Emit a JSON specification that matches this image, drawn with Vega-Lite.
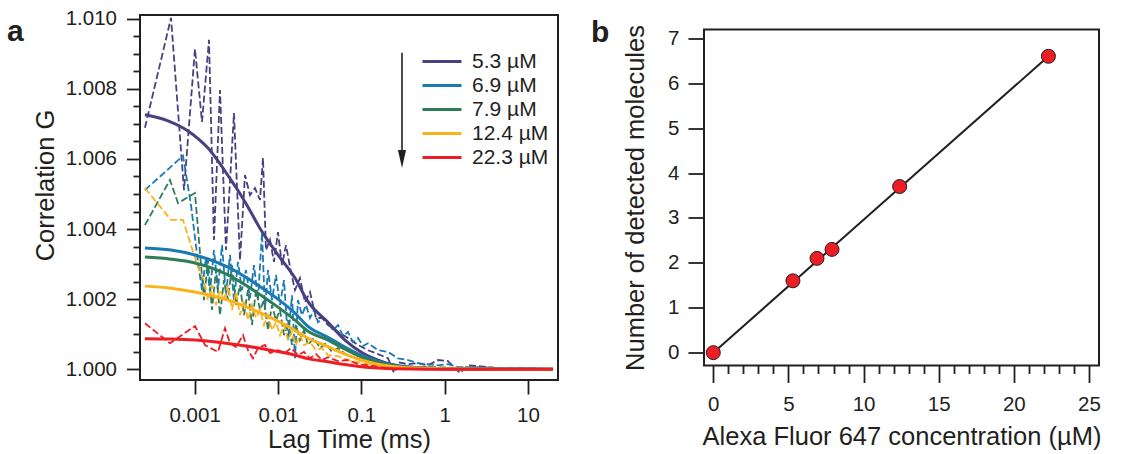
{
  "$schema": "https://vega.github.io/schema/vega-lite/v6.json",
  "background": "white",
  "padding": {"left": 6, "top": 7, "right": 5, "bottom": 2},
  "bounds": "flush",
  "center": true,
  "spacing": 146,
  "config": {
    "font": "Liberation Sans",
    "view": {"stroke": "#231f20", "strokeWidth": 2},
    "axis": {"domain": false, "grid": false, "tickColor": "#231f20", "tickWidth": 1.8, "labelColor": "#231f20", "labelFontSize": 20.5, "titleColor": "#231f20", "titleFontSize": 25.5, "titleFontWeight": "normal", "labelFlush": false, "labelOverlap": false},
    "legend": {"orient": "none", "legendX": 288, "legendY": 32.5, "title": null, "symbolType": "M-1.56,0L1.56,0", "symbolSize": 625, "symbolStrokeWidth": 3, "labelFontSize": 21, "labelColor": "#231f20", "labelOffset": 16, "rowPadding": 0, "padding": 0},
    "title": {"fontSize": 30, "fontWeight": "bold", "color": "#231f20", "anchor": "start", "frame": "group", "offset": 0, "baseline": "alphabetic"}
  },
  "datasets": {
    "raw": [
      {"conc":"5.3 µM","lag":0.000253,"G":1.00689},{"conc":"5.3 µM","lag":0.000520,"G":1.01003},{"conc":"5.3 µM","lag":0.000744,"G":1.00511},{"conc":"5.3 µM","lag":0.001008,"G":1.00914},{"conc":"5.3 µM","lag":0.001224,"G":1.00706},{"conc":"5.3 µM","lag":0.001485,"G":1.00940},{"conc":"5.3 µM","lag":0.001704,"G":1.00369},{"conc":"5.3 µM","lag":0.002012,"G":1.00797},{"conc":"5.3 µM","lag":0.002375,"G":1.00340},{"conc":"5.3 µM","lag":0.002962,"G":1.00731},{"conc":"5.3 µM","lag":0.003496,"G":1.00311},{"conc":"5.3 µM","lag":0.004014,"G":1.00554},{"conc":"5.3 µM","lag":0.004609,"G":1.00497},{"conc":"5.3 µM","lag":0.005292,"G":1.00517},{"conc":"5.3 µM","lag":0.006076,"G":1.00483},{"conc":"5.3 µM","lag":0.006601,"G":1.00603},{"conc":"5.3 µM","lag":0.007172,"G":1.00340},{"conc":"5.3 µM","lag":0.008010,"G":1.00369},{"conc":"5.3 µM","lag":0.008947,"G":1.00306},{"conc":"5.3 µM","lag":0.00999,"G":1.00391},{"conc":"5.3 µM","lag":0.01116,"G":1.00297},{"conc":"5.3 µM","lag":0.01246,"G":1.00354},{"conc":"5.3 µM","lag":0.01431,"G":1.00277},{"conc":"5.3 µM","lag":0.01598,"G":1.00226},{"conc":"5.3 µM","lag":0.01835,"G":1.00260},{"conc":"5.3 µM","lag":0.02107,"G":1.00191},{"conc":"5.3 µM","lag":0.02420,"G":1.00220},{"conc":"5.3 µM","lag":0.02856,"G":1.00146},{"conc":"5.3 µM","lag":0.03371,"G":1.00146},{"conc":"5.3 µM","lag":0.03977,"G":1.00126},{"conc":"5.3 µM","lag":0.05243,"G":1.00106},{"conc":"5.3 µM","lag":0.06912,"G":1.00089},{"conc":"5.3 µM","lag":0.09112,"G":1.00069},{"conc":"5.3 µM","lag":0.1201,"G":1.00054},{"conc":"5.3 µM","lag":0.1583,"G":1.00043},{"conc":"5.3 µM","lag":0.2087,"G":1.00031},{"conc":"5.3 µM","lag":0.2464,"G":0.99989},{"conc":"5.3 µM","lag":0.2752,"G":1.00020},{"conc":"5.3 µM","lag":0.3627,"G":1.00014},{"conc":"5.3 µM","lag":0.4781,"G":1.00017},{"conc":"5.3 µM","lag":0.6304,"G":1.00011},{"conc":"5.3 µM","lag":0.8310,"G":1.00026},{"conc":"5.3 µM","lag":1.0954,"G":1.00023},{"conc":"5.3 µM","lag":1.5262,"G":0.99989},{"conc":"5.3 µM","lag":1.9037,"G":1.00011},{"conc":"5.3 µM","lag":3.3082,"G":1.00006},{"conc":"5.3 µM","lag":5.7489,"G":1.00000},{"conc":"5.3 µM","lag":9.99,"G":1.00003},{"conc":"5.3 µM","lag":19.93,"G":1.00000},
      {"conc":"6.9 µM","lag":0.000253,"G":1.00511},{"conc":"6.9 µM","lag":0.000724,"G":1.00609},{"conc":"6.9 µM","lag":0.000903,"G":1.00469},{"conc":"6.9 µM","lag":0.001095,"G":1.00306},{"conc":"6.9 µM","lag":0.001224,"G":1.00226},{"conc":"6.9 µM","lag":0.001367,"G":1.00317},{"conc":"6.9 µM","lag":0.001526,"G":1.00220},{"conc":"6.9 µM","lag":0.001704,"G":1.00340},{"conc":"6.9 µM","lag":0.001904,"G":1.00226},{"conc":"6.9 µM","lag":0.002126,"G":1.00354},{"conc":"6.9 µM","lag":0.002375,"G":1.00211},{"conc":"6.9 µM","lag":0.002652,"G":1.00326},{"conc":"6.9 µM","lag":0.002962,"G":1.00197},{"conc":"6.9 µM","lag":0.003308,"G":1.00306},{"conc":"6.9 µM","lag":0.003695,"G":1.00226},{"conc":"6.9 µM","lag":0.004126,"G":1.00283},{"conc":"6.9 µM","lag":0.004609,"G":1.00203},{"conc":"6.9 µM","lag":0.005147,"G":1.00297},{"conc":"6.9 µM","lag":0.005749,"G":1.00197},{"conc":"6.9 µM","lag":0.006421,"G":1.00389},{"conc":"6.9 µM","lag":0.006976,"G":1.00169},{"conc":"6.9 µM","lag":0.007580,"G":1.00283},{"conc":"6.9 µM","lag":0.008466,"G":1.00197},{"conc":"6.9 µM","lag":0.009454,"G":1.00269},{"conc":"6.9 µM","lag":0.01056,"G":1.00183},{"conc":"6.9 µM","lag":0.01179,"G":1.00254},{"conc":"6.9 µM","lag":0.01317,"G":1.00083},{"conc":"6.9 µM","lag":0.01471,"G":1.00211},{"conc":"6.9 µM","lag":0.01598,"G":1.00031},{"conc":"6.9 µM","lag":0.01736,"G":1.00197},{"conc":"6.9 µM","lag":0.01939,"G":1.00154},{"conc":"6.9 µM","lag":0.02166,"G":1.00183},{"conc":"6.9 µM","lag":0.02420,"G":1.00146},{"conc":"6.9 µM","lag":0.02702,"G":1.00169},{"conc":"6.9 µM","lag":0.03018,"G":1.00134},{"conc":"6.9 µM","lag":0.03466,"G":1.00146},{"conc":"6.9 µM","lag":0.03977,"G":1.00134},{"conc":"6.9 µM","lag":0.04566,"G":1.00111},{"conc":"6.9 µM","lag":0.05243,"G":1.00126},{"conc":"6.9 µM","lag":0.06020,"G":1.00094},{"conc":"6.9 µM","lag":0.06912,"G":1.00106},{"conc":"6.9 µM","lag":0.07936,"G":1.00077},{"conc":"6.9 µM","lag":0.09112,"G":1.00089},{"conc":"6.9 µM","lag":0.1046,"G":1.00066},{"conc":"6.9 µM","lag":0.1201,"G":1.00074},{"conc":"6.9 µM","lag":0.1583,"G":1.00054},{"conc":"6.9 µM","lag":0.2087,"G":1.00049},{"conc":"6.9 µM","lag":0.2752,"G":1.00031},{"conc":"6.9 µM","lag":0.3627,"G":1.00026},{"conc":"6.9 µM","lag":0.4781,"G":1.00017},{"conc":"6.9 µM","lag":0.6304,"G":1.00014},{"conc":"6.9 µM","lag":0.8310,"G":1.00011},{"conc":"6.9 µM","lag":1.0954,"G":1.00014},{"conc":"6.9 µM","lag":1.4444,"G":1.00006},{"conc":"6.9 µM","lag":2.5098,"G":1.00006},{"conc":"6.9 µM","lag":4.3609,"G":1.00003},{"conc":"6.9 µM","lag":7.580,"G":1.00003},{"conc":"6.9 µM","lag":19.93,"G":1.00000},
      {"conc":"7.9 µM","lag":0.000253,"G":1.00411},{"conc":"7.9 µM","lag":0.000505,"G":1.00540},{"conc":"7.9 µM","lag":0.000631,"G":1.00474},{"conc":"7.9 µM","lag":0.001008,"G":1.00503},{"conc":"7.9 µM","lag":0.001293,"G":1.00197},{"conc":"7.9 µM","lag":0.001444,"G":1.00311},{"conc":"7.9 µM","lag":0.001613,"G":1.00169},{"conc":"7.9 µM","lag":0.001801,"G":1.00283},{"conc":"7.9 µM","lag":0.002012,"G":1.00154},{"conc":"7.9 µM","lag":0.002247,"G":1.00254},{"conc":"7.9 µM","lag":0.002510,"G":1.00197},{"conc":"7.9 µM","lag":0.002803,"G":1.00297},{"conc":"7.9 µM","lag":0.003130,"G":1.00183},{"conc":"7.9 µM","lag":0.003496,"G":1.00240},{"conc":"7.9 µM","lag":0.003905,"G":1.00154},{"conc":"7.9 µM","lag":0.004361,"G":1.00226},{"conc":"7.9 µM","lag":0.004871,"G":1.00126},{"conc":"7.9 µM","lag":0.005440,"G":1.00226},{"conc":"7.9 µM","lag":0.006076,"G":1.00169},{"conc":"7.9 µM","lag":0.006786,"G":1.00197},{"conc":"7.9 µM","lag":0.007580,"G":1.00111},{"conc":"7.9 µM","lag":0.008466,"G":1.00183},{"conc":"7.9 µM","lag":0.009454,"G":1.00140},{"conc":"7.9 µM","lag":0.01056,"G":1.00169},{"conc":"7.9 µM","lag":0.01179,"G":1.00097},{"conc":"7.9 µM","lag":0.01317,"G":1.00140},{"conc":"7.9 µM","lag":0.01471,"G":1.00069},{"conc":"7.9 µM","lag":0.01643,"G":1.00126},{"conc":"7.9 µM","lag":0.01835,"G":1.00083},{"conc":"7.9 µM","lag":0.02050,"G":1.00111},{"conc":"7.9 µM","lag":0.02289,"G":1.00069},{"conc":"7.9 µM","lag":0.02702,"G":1.00089},{"conc":"7.9 µM","lag":0.03190,"G":1.00060},{"conc":"7.9 µM","lag":0.03763,"G":1.00074},{"conc":"7.9 µM","lag":0.04441,"G":1.00049},{"conc":"7.9 µM","lag":0.05243,"G":1.00060},{"conc":"7.9 µM","lag":0.06912,"G":1.00037},{"conc":"7.9 µM","lag":0.09112,"G":1.00031},{"conc":"7.9 µM","lag":0.1201,"G":1.00020},{"conc":"7.9 µM","lag":0.1583,"G":1.00017},{"conc":"7.9 µM","lag":0.2397,"G":1.00009},{"conc":"7.9 µM","lag":0.3627,"G":1.00006},{"conc":"7.9 µM","lag":0.6304,"G":1.00006},{"conc":"7.9 µM","lag":1.9037,"G":1.00003},{"conc":"7.9 µM","lag":19.93,"G":1.00000},
      {"conc":"12.4 µM","lag":0.000253,"G":1.00517},{"conc":"12.4 µM","lag":0.000520,"G":1.00426},{"conc":"12.4 µM","lag":0.000724,"G":1.00426},{"conc":"12.4 µM","lag":0.001095,"G":1.00291},{"conc":"12.4 µM","lag":0.001293,"G":1.00254},{"conc":"12.4 µM","lag":0.001444,"G":1.00197},{"conc":"12.4 µM","lag":0.001613,"G":1.00240},{"conc":"12.4 µM","lag":0.001801,"G":1.00183},{"conc":"12.4 µM","lag":0.002012,"G":1.00226},{"conc":"12.4 µM","lag":0.002247,"G":1.00197},{"conc":"12.4 µM","lag":0.002510,"G":1.00240},{"conc":"12.4 µM","lag":0.002803,"G":1.00169},{"conc":"12.4 µM","lag":0.003130,"G":1.00220},{"conc":"12.4 µM","lag":0.003496,"G":1.00154},{"conc":"12.4 µM","lag":0.003905,"G":1.00197},{"conc":"12.4 µM","lag":0.004361,"G":1.00140},{"conc":"12.4 µM","lag":0.004871,"G":1.00183},{"conc":"12.4 µM","lag":0.005440,"G":1.00146},{"conc":"12.4 µM","lag":0.006076,"G":1.00169},{"conc":"12.4 µM","lag":0.006786,"G":1.00126},{"conc":"12.4 µM","lag":0.007580,"G":1.00154},{"conc":"12.4 µM","lag":0.008466,"G":1.00111},{"conc":"12.4 µM","lag":0.009454,"G":1.00134},{"conc":"12.4 µM","lag":0.01056,"G":1.00097},{"conc":"12.4 µM","lag":0.01179,"G":1.00126},{"conc":"12.4 µM","lag":0.01317,"G":1.00083},{"conc":"12.4 µM","lag":0.01471,"G":1.00106},{"conc":"12.4 µM","lag":0.01643,"G":1.00069},{"conc":"12.4 µM","lag":0.01835,"G":1.00097},{"conc":"12.4 µM","lag":0.02050,"G":1.00069},{"conc":"12.4 µM","lag":0.02420,"G":1.00077},{"conc":"12.4 µM","lag":0.02856,"G":1.00054},{"conc":"12.4 µM","lag":0.03371,"G":1.00060},{"conc":"12.4 µM","lag":0.03977,"G":1.00040},{"conc":"12.4 µM","lag":0.05243,"G":1.00037},{"conc":"12.4 µM","lag":0.06912,"G":1.00026},{"conc":"12.4 µM","lag":0.09112,"G":1.00020},{"conc":"12.4 µM","lag":0.1201,"G":1.00014},{"conc":"12.4 µM","lag":0.1818,"G":1.00009},{"conc":"12.4 µM","lag":0.2752,"G":1.00006},{"conc":"12.4 µM","lag":0.6304,"G":1.00003},{"conc":"12.4 µM","lag":19.93,"G":1.00000},
      {"conc":"22.3 µM","lag":0.000253,"G":1.00131},{"conc":"22.3 µM","lag":0.000505,"G":1.00074},{"conc":"22.3 µM","lag":0.001008,"G":1.00123},{"conc":"22.3 µM","lag":0.001329,"G":1.00069},{"conc":"22.3 µM","lag":0.001904,"G":1.00049},{"conc":"22.3 µM","lag":0.002310,"G":1.00117},{"conc":"22.3 µM","lag":0.002652,"G":1.00074},{"conc":"22.3 µM","lag":0.003130,"G":1.00063},{"conc":"22.3 µM","lag":0.003798,"G":1.00097},{"conc":"22.3 µM","lag":0.004361,"G":1.00054},{"conc":"22.3 µM","lag":0.005007,"G":1.00031},{"conc":"22.3 µM","lag":0.005749,"G":1.00060},{"conc":"22.3 µM","lag":0.006976,"G":1.00069},{"conc":"22.3 µM","lag":0.008010,"G":1.00046},{"conc":"22.3 µM","lag":0.00999,"G":1.00054},{"conc":"22.3 µM","lag":0.01212,"G":1.00046},{"conc":"22.3 µM","lag":0.01431,"G":1.00060},{"conc":"22.3 µM","lag":0.01736,"G":1.00040},{"conc":"22.3 µM","lag":0.02050,"G":1.00049},{"conc":"22.3 µM","lag":0.02420,"G":1.00031},{"conc":"22.3 µM","lag":0.02856,"G":1.00043},{"conc":"22.3 µM","lag":0.03371,"G":1.00026},{"conc":"22.3 µM","lag":0.03977,"G":1.00034},{"conc":"22.3 µM","lag":0.05243,"G":1.00023},{"conc":"22.3 µM","lag":0.06912,"G":1.00026},{"conc":"22.3 µM","lag":0.09112,"G":1.00014},{"conc":"22.3 µM","lag":0.1201,"G":1.00011},{"conc":"22.3 µM","lag":0.1818,"G":1.00006},{"conc":"22.3 µM","lag":0.2752,"G":1.00003},{"conc":"22.3 µM","lag":0.6304,"G":1.00000},{"conc":"22.3 µM","lag":19.93,"G":1.00000}
    ],
    "fit": [
      {"conc":"5.3 µM","lag":0.000253,"G":1.00726},{"conc":"5.3 µM","lag":0.000478,"G":1.00709},{"conc":"5.3 µM","lag":0.000831,"G":1.00680},{"conc":"5.3 µM","lag":0.001444,"G":1.00631},{"conc":"5.3 µM","lag":0.002726,"G":1.00540},{"conc":"5.3 µM","lag":0.003308,"G":1.00510},{"conc":"5.3 µM","lag":0.004361,"G":1.00463},{"conc":"5.3 µM","lag":0.006246,"G":1.00397},{"conc":"5.3 µM","lag":0.00999,"G":1.00326},{"conc":"5.3 µM","lag":0.01598,"G":1.00260},{"conc":"5.3 µM","lag":0.02268,"G":1.00194},{"conc":"5.3 µM","lag":0.03977,"G":1.00134},{"conc":"5.3 µM","lag":0.06362,"G":1.00083},{"conc":"5.3 µM","lag":0.09899,"G":1.00049},{"conc":"5.3 µM","lag":0.1583,"G":1.00026},{"conc":"5.3 µM","lag":0.2533,"G":1.00011},{"conc":"5.3 µM","lag":0.4781,"G":1.00004},{"conc":"5.3 µM","lag":1.0954,"G":1.00001},{"conc":"5.3 µM","lag":4.3609,"G":1.0},{"conc":"5.3 µM","lag":19.93,"G":1.0},
      {"conc":"6.9 µM","lag":0.000253,"G":1.00346},{"conc":"6.9 µM","lag":0.000520,"G":1.00340},{"conc":"6.9 µM","lag":0.001008,"G":1.00326},{"conc":"6.9 µM","lag":0.002510,"G":1.00291},{"conc":"6.9 µM","lag":0.006246,"G":1.00234},{"conc":"6.9 µM","lag":0.00999,"G":1.00200},{"conc":"6.9 µM","lag":0.01598,"G":1.00160},{"conc":"6.9 µM","lag":0.02268,"G":1.00123},{"conc":"6.9 µM","lag":0.03977,"G":1.00091},{"conc":"6.9 µM","lag":0.06362,"G":1.00063},{"conc":"6.9 µM","lag":0.09899,"G":1.00040},{"conc":"6.9 µM","lag":0.1583,"G":1.00023},{"conc":"6.9 µM","lag":0.2533,"G":1.00011},{"conc":"6.9 µM","lag":0.4781,"G":1.00004},{"conc":"6.9 µM","lag":1.0954,"G":1.00001},{"conc":"6.9 µM","lag":4.3609,"G":1.0},{"conc":"6.9 µM","lag":19.93,"G":1.0},
      {"conc":"7.9 µM","lag":0.000253,"G":1.00320},{"conc":"7.9 µM","lag":0.000520,"G":1.00314},{"conc":"7.9 µM","lag":0.001008,"G":1.00303},{"conc":"7.9 µM","lag":0.002510,"G":1.00269},{"conc":"7.9 µM","lag":0.006246,"G":1.00211},{"conc":"7.9 µM","lag":0.00999,"G":1.00177},{"conc":"7.9 µM","lag":0.01598,"G":1.00140},{"conc":"7.9 µM","lag":0.02268,"G":1.00109},{"conc":"7.9 µM","lag":0.03977,"G":1.00083},{"conc":"7.9 µM","lag":0.06362,"G":1.00057},{"conc":"7.9 µM","lag":0.09899,"G":1.00035},{"conc":"7.9 µM","lag":0.1583,"G":1.00020},{"conc":"7.9 µM","lag":0.2533,"G":1.00009},{"conc":"7.9 µM","lag":0.4781,"G":1.00003},{"conc":"7.9 µM","lag":1.0954,"G":1.00001},{"conc":"7.9 µM","lag":4.3609,"G":1.0},{"conc":"7.9 µM","lag":19.93,"G":1.0},
      {"conc":"12.4 µM","lag":0.000253,"G":1.00237},{"conc":"12.4 µM","lag":0.000520,"G":1.00231},{"conc":"12.4 µM","lag":0.001008,"G":1.00220},{"conc":"12.4 µM","lag":0.002510,"G":1.00197},{"conc":"12.4 µM","lag":0.006246,"G":1.00160},{"conc":"12.4 µM","lag":0.00999,"G":1.00137},{"conc":"12.4 µM","lag":0.01598,"G":1.00111},{"conc":"12.4 µM","lag":0.02268,"G":1.00089},{"conc":"12.4 µM","lag":0.03977,"G":1.00064},{"conc":"12.4 µM","lag":0.06362,"G":1.00043},{"conc":"12.4 µM","lag":0.09899,"G":1.00026},{"conc":"12.4 µM","lag":0.1583,"G":1.00014},{"conc":"12.4 µM","lag":0.2533,"G":1.00007},{"conc":"12.4 µM","lag":0.4781,"G":1.00003},{"conc":"12.4 µM","lag":1.0954,"G":1.00001},{"conc":"12.4 µM","lag":4.3609,"G":1.0},{"conc":"12.4 µM","lag":19.93,"G":1.0},
      {"conc":"22.3 µM","lag":0.000253,"G":1.00087},{"conc":"22.3 µM","lag":0.000520,"G":1.00086},{"conc":"22.3 µM","lag":0.001008,"G":1.00083},{"conc":"22.3 µM","lag":0.002510,"G":1.00073},{"conc":"22.3 µM","lag":0.006246,"G":1.00059},{"conc":"22.3 µM","lag":0.00999,"G":1.00050},{"conc":"22.3 µM","lag":0.01598,"G":1.00040},{"conc":"22.3 µM","lag":0.02268,"G":1.00030},{"conc":"22.3 µM","lag":0.03977,"G":1.00021},{"conc":"22.3 µM","lag":0.06362,"G":1.00013},{"conc":"22.3 µM","lag":0.09899,"G":1.00007},{"conc":"22.3 µM","lag":0.1583,"G":1.00003},{"conc":"22.3 µM","lag":0.2533,"G":1.00001},{"conc":"22.3 µM","lag":0.6304,"G":1.0},{"conc":"22.3 µM","lag":19.93,"G":1.0}
    ],
    "molecules": [
      {"concentration": 0, "count": 0},
      {"concentration": 5.3, "count": 1.6},
      {"concentration": 6.9, "count": 2.1},
      {"concentration": 7.9, "count": 2.3},
      {"concentration": 12.4, "count": 3.7},
      {"concentration": 22.3, "count": 6.6}
    ],
    "molfit": [
      {"concentration": 0, "count": 0},
      {"concentration": 22.3, "count": 6.6}
    ]
  },
  "hconcat": [
    {
      "width": 418,
      "height": 365,
      "title": {"text": "a", "dx": -133, "dy": 42},
      "resolve": {"axis": {"y": "independent"}},
      "layer": [
        {
          "data": {"name": "raw"},
          "mark": {"type": "line", "strokeWidth": 1.8, "strokeDash": [7, 3]},
          "encoding": {
            "x": {"field": "lag", "type": "quantitative",
                  "scale": {"type": "log", "domain": [0.0002207, 22.9], "nice": false},
                  "axis": {"values": [0.001, 0.01, 0.1, 1, 10], "format": "~g", "tickSize": 14, "labelPadding": 11, "title": "Lag Time (ms)", "titlePadding": 2}},
            "y": {"field": "G", "type": "quantitative",
                  "scale": {"domain": [0.99969, 1.01011], "nice": false, "zero": false},
                  "axis": {"values": [1.0, 1.002, 1.004, 1.006, 1.008, 1.01], "format": ".3f", "tickSize": 13.5, "labelPadding": 10, "title": "Correlation G", "titleX": -87, "titleY": 170, "titleBaseline": "alphabetic", "titleAlign": "center", "titleAngle": -90}},
            "color": {"field": "conc", "type": "nominal",
                      "scale": {"domain": ["5.3 µM", "6.9 µM", "7.9 µM", "12.4 µM", "22.3 µM"], "range": ["#47417f", "#1a7ab5", "#2f7c5a", "#fbb21a", "#ec1d25"]},
                      "legend": {"encode": {"symbols": {"update": {"strokeDash": {"value": [1, 0]}, "strokeWidth": {"value": 3}}}}}}
          }
        },
        {
          "data": {"name": "fit"},
          "mark": {"type": "line", "strokeWidth": 3, "interpolate": "monotone"},
          "encoding": {
            "x": {"field": "lag", "type": "quantitative"},
            "y": {"field": "G", "type": "quantitative", "axis": null},
            "color": {"field": "conc", "type": "nominal",
                      "legend": {"encode": {"symbols": {"update": {"strokeDash": {"value": [1, 0]}, "strokeWidth": {"value": 3}}}}}}
          }
        },
        {
          "data": {"values": [{}]},
          "mark": {"type": "rule", "color": "#231f20", "strokeWidth": 1.6},
          "encoding": {
            "x": {"datum": 0.3074, "type": "quantitative"},
            "y": {"datum": 1.00903, "type": "quantitative",
                  "axis": {"orient": "left", "values": [1.0005, 1.001, 1.0015, 1.0025, 1.003, 1.0035, 1.0045, 1.005, 1.0055, 1.0065, 1.007, 1.0075, 1.0085, 1.009, 1.0095], "tickSize": 7, "labels": false, "title": null}},
            "y2": {"datum": 1.0062}
          }
        },
        {
          "data": {"values": [{}]},
          "mark": {"type": "point", "shape": "M-0.45,-1L0.45,-1L0,1Z", "filled": true, "color": "#231f20", "size": 324, "opacity": 1},
          "encoding": {
            "x": {"datum": 0.3074, "type": "quantitative"},
            "y": {"datum": 1.006, "type": "quantitative", "axis": null}
          }
        }
      ]
    },
    {
      "width": 395,
      "height": 336,
      "title": {"text": "b", "dx": -113, "dy": 27},
      "resolve": {"axis": {"x": "independent"}},
      "layer": [
        {
          "data": {"name": "molfit"},
          "mark": {"type": "line", "color": "#231f20", "strokeWidth": 2},
          "encoding": {
            "x": {"field": "concentration", "type": "quantitative",
                  "scale": {"domain": [-0.619, 25.665], "nice": false, "zero": false},
                  "axis": {"values": [0, 5, 10, 15, 20, 25], "tickSize": 17, "labelPadding": 12, "title": "Alexa Fluor 647 concentration (µM)", "titlePadding": 9.5}},
            "y": {"field": "count", "type": "quantitative",
                  "scale": {"domain": [-0.2857, 7.1967], "nice": false, "zero": false},
                  "axis": {"values": [0, 1, 2, 3, 4, 5, 6, 7], "tickSize": 16, "labelPadding": 9, "title": "Number of detected molecules", "titleX": -61, "titleBaseline": "alphabetic", "titleAlign": "center", "titleAngle": -90}}
          }
        },
        {
          "data": {"name": "molecules"},
          "mark": {"type": "point", "shape": "circle", "filled": true, "fill": "#ec1d25", "stroke": "#231f20", "strokeWidth": 1, "size": 196, "opacity": 1},
          "encoding": {
            "x": {"field": "concentration", "type": "quantitative",
                  "axis": {"orient": "bottom", "values": [1, 2, 3, 4, 6, 7, 8, 9, 11, 12, 13, 14, 16, 17, 18, 19, 21, 22, 23, 24], "tickSize": 8, "labels": false, "title": null}},
            "y": {"field": "count", "type": "quantitative"}
          }
        }
      ]
    }
  ]
}
